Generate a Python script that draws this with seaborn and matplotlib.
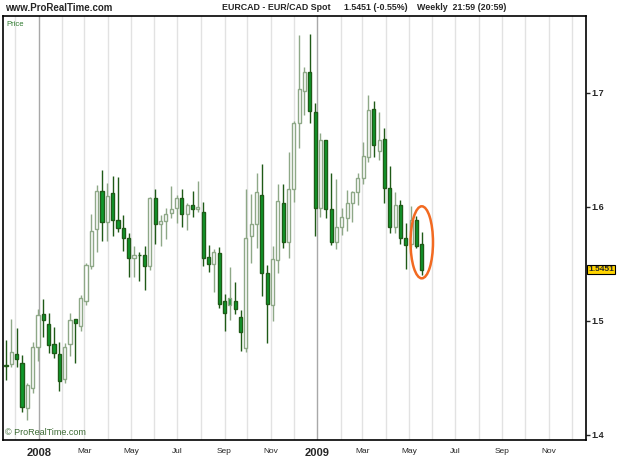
import numpy as np
import pandas as pd
import matplotlib
matplotlib.use('Agg')
import matplotlib.pyplot as plt
import matplotlib.dates as mdates
import matplotlib.transforms as mtransforms
from matplotlib.patches import Ellipse
import seaborn as sns

# weekly EUR/CAD candles
start_date = '2007-11-19'
opens = [1.4605, 1.4620, 1.4708, 1.4634, 1.4234, 1.4410, 1.4769, 1.5059, 1.4974, 1.4798,
         1.4711, 1.4494, 1.4796, 1.5015, 1.4959, 1.5178, 1.5485, 1.5804, 1.6140, 1.5866,
         1.6120, 1.5886, 1.5813, 1.5728, 1.5550, 1.5575, 1.5575, 1.5482, 1.6076, 1.5851,
         1.5880, 1.5945, 1.5989, 1.6076, 1.5936, 1.6018, 1.5980, 1.5954, 1.5559, 1.5497,
         1.5596, 1.5175, 1.5199, 1.5175, 1.5032, 1.4761, 1.5748, 1.5851, 1.6105, 1.5418,
         1.5139, 1.5532, 1.6039, 1.5696, 1.6155, 1.6734, 1.7020, 1.7182, 1.6831, 1.5989,
         1.6588, 1.5982, 1.5696, 1.5827, 1.5901, 1.6035, 1.6127, 1.6252, 1.6437, 1.6857,
         1.6491, 1.6595, 1.6164, 1.5820, 1.6018, 1.5728, 1.5675, 1.5886, 1.5675]
closes = [1.4610, 1.4725, 1.4667, 1.4243, 1.4441, 1.4769, 1.5053, 1.5009, 1.4789, 1.4717,
          1.4474, 1.4769, 1.5009, 1.4980, 1.5199, 1.5491, 1.5789, 1.6140, 1.5866, 1.6096,
          1.5886, 1.5813, 1.5725, 1.5550, 1.5575, 1.5575, 1.5482, 1.6076, 1.5851, 1.5880,
          1.5936, 1.5982, 1.6076, 1.5936, 1.6018, 1.5980, 1.6003, 1.5550, 1.5497, 1.5603,
          1.5146, 1.5068, 1.5140, 1.5101, 1.4899, 1.5725, 1.5851, 1.6127, 1.5424, 1.5146,
          1.5541, 1.6055, 1.5696, 1.6155, 1.6739, 1.7032, 1.7182, 1.6842, 1.5989, 1.6588,
          1.5982, 1.5696, 1.5827, 1.5910, 1.6035, 1.6127, 1.6252, 1.6445, 1.6854, 1.6544,
          1.6588, 1.6164, 1.5820, 1.6018, 1.5725, 1.5667, 1.5886, 1.5662, 1.5451]
highs = [1.4833, 1.5018, 1.4941, 1.4702, 1.4456, 1.4813, 1.5103, 1.5190, 1.5073, 1.4950,
         1.4818, 1.4804, 1.5068, 1.5018, 1.5228, 1.5511, 1.5939, 1.6193, 1.6325, 1.6208,
         1.6268, 1.6266, 1.5930, 1.5775, 1.5655, 1.5608, 1.5655, 1.6088, 1.6155, 1.5930,
         1.5989, 1.6184, 1.6105, 1.6155, 1.6032, 1.6143, 1.6228, 1.6046, 1.5667, 1.5632,
         1.5649, 1.5234, 1.5471, 1.5345, 1.5096, 1.6155, 1.6111, 1.6301, 1.6375, 1.5491,
         1.5655, 1.6200, 1.6199, 1.6485, 1.6754, 1.7509, 1.7224, 1.7520, 1.6910, 1.6646,
         1.6588, 1.6296, 1.6247, 1.5989, 1.6145, 1.6140, 1.6298, 1.6573, 1.6982, 1.6927,
         1.6833, 1.6690, 1.6355, 1.6132, 1.6061, 1.5860, 1.6006, 1.5921, 1.5783]
lows = [1.4482, 1.4599, 1.4599, 1.4204, 1.4132, 1.4366, 1.4652, 1.4862, 1.4717, 1.4673,
        1.4389, 1.4454, 1.4693, 1.4629, 1.4915, 1.5140, 1.5454, 1.5608, 1.5702, 1.5704,
        1.5746, 1.5783, 1.5610, 1.5386, 1.5384, 1.5355, 1.5272, 1.5447, 1.5675, 1.5661,
        1.5717, 1.5901, 1.5857, 1.5822, 1.5798, 1.5915, 1.5956, 1.5482, 1.5432, 1.5254,
        1.5114, 1.4912, 1.5009, 1.5057, 1.4737, 1.4724, 1.5506, 1.5640, 1.5222, 1.4810,
        1.4997, 1.5418, 1.5640, 1.5550, 1.6047, 1.6520, 1.6807, 1.6739, 1.5746, 1.5915,
        1.5904, 1.5667, 1.5629, 1.5754, 1.5792, 1.5871, 1.6018, 1.6202, 1.6397, 1.6436,
        1.6415, 1.6031, 1.5775, 1.5769, 1.5675, 1.5452, 1.5649, 1.5638, 1.5404]

tick_dates = ['2008-01-01', '2008-03-01', '2008-05-01', '2008-07-01', '2008-09-01', '2008-11-01',
              '2009-01-01', '2009-03-01', '2009-05-01', '2009-07-01', '2009-09-01', '2009-11-01']
tick_labels = ['2008', 'Mar', 'May', 'Jul', 'Sep', 'Nov', '2009', 'Mar', 'May', 'Jul', 'Sep', 'Nov']
price_ticks = [1.4, 1.5, 1.6, 1.7]
last_price = 1.5451

sns.set_style('white')
plt.rcParams['font.family'] = ['Liberation Sans', 'DejaVu Sans']

df = pd.DataFrame({
    'date': pd.date_range(start_date, periods=len(opens), freq='7D'),
    'open': opens, 'high': highs, 'low': lows, 'close': closes,
})
df['x'] = mdates.date2num(df['date'])
rising = (df['close'] > df['close'].shift(1)).values
hollow = (df['close'] > df['open']).values

DARK = '#1f5a17'
LIGHT = '#8ea887'
GREEN = '#0f9a2c'
edge = np.where(rising, LIGHT, DARK)
face = np.where(hollow, 'white', GREEN)

fig = plt.figure(figsize=(6.25, 4.69), dpi=100)
ax = fig.add_axes([3 / 625, 29 / 469, 582.5 / 625, 424 / 469])

# month gridlines, darker at year start
for m in pd.date_range('2007-12-01', '2009-12-01', freq='MS'):
    ax.axvline(mdates.date2num(m), color='#a8a8a8' if m.month == 1 else '#e2e2e2', lw=1, zorder=0)

ax.vlines(df['x'], df['low'], df['high'], colors=edge, lw=1, zorder=2)
body = np.maximum((df['close'] - df['open']).abs(), 0.0006)
ax.bar(df['x'], body, bottom=np.minimum(df['open'], df['close']), width=4.2,
       color=face, edgecolor=edge, linewidth=1, zorder=3)

# orange ring round the last weeks
top = max(highs[-3:])
bottom = min(lows[-3:]) - 0.003
ax.add_patch(Ellipse((df['x'].iloc[-1], (top + bottom) / 2), 29.5, top - bottom,
                     fill=False, ec='#f26a21', lw=1.8, zorder=5))

x0 = df['x'].iloc[0]
ax.set_xlim(x0 - 3.9, x0 + 761)
ax.set_ylim(1.3956, 1.7675)

ax.set_xticks(mdates.date2num(pd.to_datetime(tick_dates)))
ax.set_xticklabels(tick_labels)
ax.tick_params(axis='x', length=0, pad=6, labelsize=6)
for lab in ax.get_xticklabels():
    if lab.get_text().isdigit():
        lab.set_fontweight('bold')
        lab.set_fontsize(8)

ax.yaxis.tick_right()
ax.set_yticks(price_ticks)
ax.set_yticklabels([f'{p:.1f}' for p in price_ticks], fontweight='bold')
ax.tick_params(axis='y', direction='out', length=3, width=1, pad=1.5, labelsize=6.5, right=True)

for s in ax.spines.values():
    s.set_color('black')
    s.set_linewidth(1.2)
ax.grid(False)

trans = mtransforms.blended_transform_factory(ax.transAxes, ax.transData)
ax.text(1.0045, last_price, f'{last_price:.4f}', transform=trans, ha='left', va='center',
        fontsize=6, fontweight='bold', clip_on=False,
        bbox=dict(boxstyle='square,pad=0.15', fc='#ffd400', ec='black', lw=0.8))

ax.text(0.006, 0.988, 'Price', transform=ax.transAxes, color='#2f7a2f', fontsize=5.5, va='top')
ax.text(0.004, 0.008, '© ProRealTime.com', transform=ax.transAxes, color='#3d6b35',
        fontsize=6.5, va='bottom')

fig.text(5 / 625, 1 - 8 / 469, 'www.ProRealTime.com', fontsize=7, fontweight='bold', va='center')
fig.text(222 / 625, 1 - 8 / 469, 'EURCAD - EUR/CAD Spot', fontsize=6.4, fontweight='bold', va='center')
fig.text(344 / 625, 1 - 8 / 469, '1.5451 (-0.55%)', fontsize=6.4, fontweight='bold', va='center')
fig.text(417 / 625, 1 - 8 / 469, 'Weekly  21:59 (20:59)', fontsize=6.4, fontweight='bold', va='center')

fig.savefig('out.png', dpi=100)
